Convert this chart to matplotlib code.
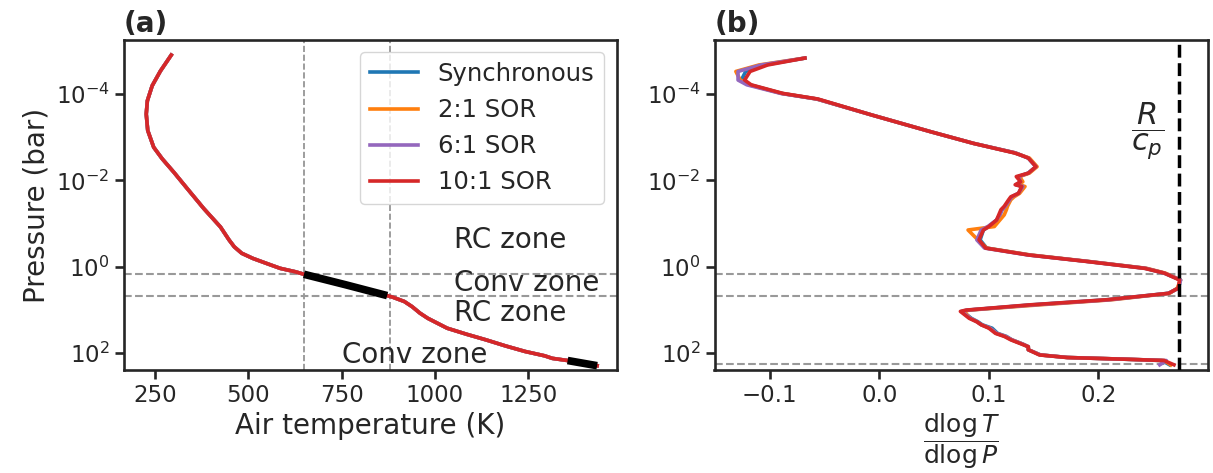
import numpy as np
import matplotlib
matplotlib.use("Agg")
import matplotlib.pyplot as plt
from matplotlib.ticker import FixedLocator, NullLocator

# ---- datos ----
series = ["Synchronous", "2:1 SOR", "6:1 SOR", "10:1 SOR"]
colores = ["tab:blue", "tab:orange", "tab:purple", "tab:red"]

# panel (a): perfil T-P (log10 de presion en bar)
logp_perfil = [-4.91, -4.54, -4.20, -3.85, -3.54, -3.16, -2.77, -2.50, -2.19, -1.81,
               -1.35, -0.92, -0.62, -0.46, -0.31, -0.19, -0.06, 0.04, 0.12, 0.178,
               0.42, 0.673, 0.71, 0.81, 0.93, 1.08, 1.20, 1.43, 1.57, 1.70,
               1.84, 1.97, 2.07, 2.13, 2.18, 2.30]
temp_perfil = [293, 264, 242, 229, 226, 230, 246, 269, 300, 336,
               380, 425, 448, 462, 482, 512, 553, 585, 626, 649,
               760, 872, 887, 918, 939, 960, 981, 1033, 1085, 1137,
               1189, 1242, 1294, 1315, 1356, 1435]

# zonas convectivas
p_conv_top = 1.51
p_conv_bot = 4.89
p_conv_prof = 180
t_conv_lim = [649, 879]
t_conv_prof = 1355

# panel (b): gradiente dlogT/dlogP
logp_grad = [-4.84, -4.68, -4.53, -4.33, -4.22, -4.02, -3.89, -3.52, -3.13, -2.86,
             -2.64, -2.59, -2.52, -2.32, -2.17, -2.09, -1.97, -1.90, -1.86, -1.70,
             -1.62, -1.55, -1.40, -1.32, -1.20, -1.08, -0.93, -0.85, -0.62, -0.43,
             -0.27, -0.12, 0.04, 0.15, 0.31, 0.50, 0.62, 0.77, 0.89, 1.01,
             1.04, 1.20, 1.28, 1.35, 1.43, 1.55, 1.62, 1.70, 1.80, 1.86,
             1.93, 2.05, 2.11, 2.15, 2.18, 2.28]
grad_sync = [-0.068, -0.105, -0.122, -0.126, -0.118, -0.089, -0.057, -0.007, 0.047, 0.086,
             0.124, 0.129, 0.136, 0.143, 0.136, 0.127, 0.129, 0.125, 0.131, 0.127,
             0.121, 0.119, 0.115, 0.112, 0.110, 0.107, 0.100, 0.095, 0.092, 0.098,
             0.137, 0.190, 0.243, 0.260, 0.275, 0.273, 0.264, 0.208, 0.138, 0.081,
             0.076, 0.084, 0.090, 0.094, 0.103, 0.108, 0.116, 0.121, 0.131, 0.136,
             0.136, 0.147, 0.172, 0.225, 0.258, 0.265]
grad_21 = [-0.068, -0.110, -0.131, -0.127, -0.119, -0.089, -0.057, -0.007, 0.047, 0.086,
           0.124, 0.129, 0.137, 0.144, 0.137, 0.128, 0.131, 0.127, 0.133, 0.128,
           0.123, 0.120, 0.117, 0.116, 0.114, 0.110, 0.105, 0.081, 0.090, 0.098,
           0.138, 0.191, 0.244, 0.261, 0.275, 0.272, 0.265, 0.212, 0.145, 0.082,
           0.077, 0.083, 0.089, 0.093, 0.101, 0.107, 0.115, 0.121, 0.131, 0.136,
           0.136, 0.147, 0.172, 0.225, 0.260, 0.266]
grad_61 = [-0.068, -0.108, -0.129, -0.129, -0.121, -0.090, -0.057, -0.007, 0.047, 0.086,
           0.124, 0.129, 0.136, 0.143, 0.136, 0.127, 0.129, 0.125, 0.131, 0.127,
           0.121, 0.119, 0.115, 0.112, 0.110, 0.107, 0.099, 0.093, 0.089, 0.096,
           0.136, 0.190, 0.243, 0.260, 0.275, 0.273, 0.264, 0.210, 0.140, 0.080,
           0.075, 0.083, 0.089, 0.093, 0.101, 0.107, 0.115, 0.121, 0.131, 0.136,
           0.136, 0.147, 0.172, 0.225, 0.262, 0.256]
grad_101 = [-0.068, -0.102, -0.118, -0.123, -0.117, -0.088, -0.056, -0.007, 0.047, 0.086,
            0.123, 0.129, 0.136, 0.143, 0.136, 0.125, 0.129, 0.124, 0.130, 0.127,
            0.120, 0.118, 0.114, 0.111, 0.109, 0.107, 0.100, 0.095, 0.091, 0.097,
            0.136, 0.189, 0.242, 0.260, 0.274, 0.273, 0.264, 0.207, 0.136, 0.079,
            0.074, 0.082, 0.089, 0.093, 0.100, 0.106, 0.114, 0.120, 0.130, 0.136,
            0.136, 0.146, 0.171, 0.225, 0.260, 0.269]
gradientes = [grad_sync, grad_21, grad_61, grad_101]
r_cp = 0.274

# ---- estilo ----
plt.rcParams.update({
    "font.family": "DejaVu Sans",
    "text.color": ".15",
    "axes.labelcolor": ".15",
    "axes.edgecolor": ".15",
    "axes.linewidth": 1.9,
    "xtick.color": ".15",
    "ytick.color": ".15",
    "xtick.major.size": 6.5,
    "ytick.major.size": 6.5,
    "xtick.major.width": 1.9,
    "ytick.major.width": 1.9,
    "xtick.labelsize": 16.5,
    "ytick.labelsize": 16.5,
    "axes.labelsize": 20,
    "legend.fontsize": 17.5,
})

fig = plt.figure(figsize=(12.13, 4.73), dpi=100)
ax1 = fig.add_axes([123.5 / 1213, 1 - 370 / 473, 493 / 1213, 330 / 473])
ax2 = fig.add_axes([714.5 / 1213, 1 - 370 / 473, 493 / 1213, 330 / 473])

p_perfil = 10 ** np.array(logp_perfil)
t_perfil = np.array(temp_perfil)

# Panel (a)
for nombre, c in zip(series, colores):
    ax1.plot(t_perfil, p_perfil, color=c, lw=2.6, label=nombre)

conv1 = (t_perfil >= t_conv_lim[0]) & (t_perfil <= t_conv_lim[1])
ax1.plot(t_perfil[conv1], p_perfil[conv1], color="k", lw=5.5, solid_capstyle="butt", zorder=5)
conv2 = t_perfil >= t_conv_prof
ax1.plot(t_perfil[conv2], p_perfil[conv2], color="k", lw=5.5, solid_capstyle="butt", zorder=5)

for t in t_conv_lim:
    ax1.axvline(t, color="0.55", ls="--", lw=1.2, zorder=1)
for p in [p_conv_top, p_conv_bot]:
    ax1.axhline(p, color="0.6", ls="--", lw=1.5, zorder=1)

ax1.text(1052, 10 ** -0.61, "RC zone", fontsize=20, va="center")
ax1.text(1052, 10 ** 0.387, "Conv zone", fontsize=20, va="center")
ax1.text(1052, 10 ** 1.068, "RC zone", fontsize=20, va="center")
ax1.text(752, 10 ** 2.05, "Conv zone", fontsize=20, va="center")

ax1.set_yscale("log")
ax1.set_xlim(165, 1487)
ax1.set_ylim(10 ** 2.40, 10 ** -5.26)
ax1.xaxis.set_major_locator(FixedLocator([250, 500, 750, 1000, 1250]))
ax1.yaxis.set_major_locator(FixedLocator([1e-4, 1e-2, 1e0, 1e2]))
ax1.yaxis.set_minor_locator(NullLocator())
ax1.set_xlabel("Air temperature (K)")
ax1.set_ylabel("Pressure (bar)")
ax1.set_title("(a)", loc="left", fontweight="bold", fontsize=20)
ax1.legend(loc="upper right")

# Panel (b)
p_grad = 10 ** np.array(logp_grad)
for nombre, c, g in zip(series, colores, gradientes):
    ax2.plot(g, p_grad, color=c, lw=2.6, label=nombre)

ax2.axvline(r_cp, color="k", ls="--", lw=2.5, zorder=4)
for p in [p_conv_top, p_conv_bot, p_conv_prof]:
    ax2.axhline(p, color="0.6", ls="--", lw=1.5, zorder=1)
ax2.text(0.245, 10 ** -3.15, r"$\dfrac{R}{c_p}$", fontsize=22, ha="center", va="center")

ax2.set_yscale("log")
ax2.set_xlim(-0.1505, 0.2996)
ax2.set_ylim(10 ** 2.40, 10 ** -5.26)
ax2.xaxis.set_major_locator(FixedLocator([-0.1, 0.0, 0.1, 0.2]))
ax2.yaxis.set_major_locator(FixedLocator([1e-4, 1e-2, 1e0, 1e2]))
ax2.yaxis.set_minor_locator(NullLocator())
ax2.set_xlabel(r"$\dfrac{\mathrm{d}\log T}{\mathrm{d}\log P}$", fontsize=18, labelpad=3)
ax2.set_title("(b)", loc="left", fontweight="bold", fontsize=20)

fig.savefig("out.png", dpi=100)
